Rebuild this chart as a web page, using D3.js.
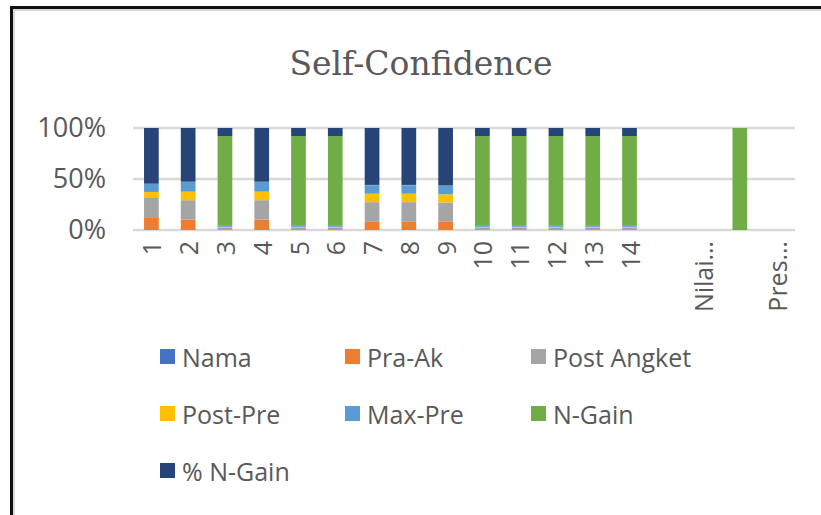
<!DOCTYPE html>
<html>
<head>
<meta charset="utf-8">
<script src="https://cdn.jsdelivr.net/npm/d3@7"></script>
<style>
  html, body { margin: 0; padding: 0; background: #fff; overflow: hidden; }
  svg { display: block; }
  text { font-family: "Open Sans", sans-serif; fill: #595959; }
</style>
</head>
<body>
<div id="my_dataviz"></div>
<script>
// categories (x axis) - some labels are blank in the original
var categories = ["1", "2", "3", "4", "5", "6", "7", "8", "9", "10", "11", "12", "13", "14", "", "Nilai…", "", "Pres…"];

// series values
var nama      = [0, 0, 0, 0, 0, 0, 0, 0, 0, 0, 0, 0, 0, 0, 0, 0, 0, 0];
var praAk     = [11.8, 10.3, 0.8, 10.3, 0.8, 0.8, 8, 8, 8.5, 0.8, 0.8, 0.8, 0.8, 0.8, 0, 0, 0, 0];
var postAngket = [19.6, 19, 1.3, 19, 1.3, 1.3, 19.3, 19.3, 18.5, 1.3, 1.3, 1.3, 1.3, 1.3, 0, 0, 0, 0];
var postPre   = [5.9, 8.4, 1, 8.4, 1, 1, 8.3, 8.3, 8, 1, 1, 1, 1, 1, 0, 0, 0, 0];
var maxPre    = [7.8, 9.5, 1, 9.5, 1, 1, 8.3, 8.3, 8.3, 1, 1, 1, 1, 1, 0, 0, 0, 0];
var nGain     = [0.3, 0.3, 88, 0.3, 88, 88, 0.3, 0.3, 0.3, 88, 88, 88, 88, 88, 0, 0, 100, 0];
var pctNGain  = [54.6, 52.8, 7.9, 52.8, 7.9, 7.9, 55.8, 55.8, 56.4, 7.9, 7.9, 7.9, 7.9, 7.9, 0, 0, 0, 0];

var seriesNames = ["Nama", "Pra-Ak", "Post Angket", "Post-Pre", "Max-Pre", "N-Gain", "% N-Gain"];
var seriesColors = ["#4472C4", "#ED7D31", "#A5A5A5", "#FFC000", "#5B9BD5", "#70AD47", "#264478"];
var yTicks = [0, 0.5, 1];

// build rows for d3.stack
var rows = categories.map(function (c, i) {
    return {
        idx: i,
        "Nama": nama[i], "Pra-Ak": praAk[i], "Post Angket": postAngket[i],
        "Post-Pre": postPre[i], "Max-Pre": maxPre[i], "N-Gain": nGain[i], "% N-Gain": pctNGain[i]
    };
});

var W = 821, H = 515;
var margin = { top: 128, left: 133, right: 26, bottom: 285 };
var width = W - margin.left - margin.right,
    height = H - margin.top - margin.bottom;

var svg = d3.select("#my_dataviz")
    .append("svg")
    .attr("width", W)
    .attr("height", H);

// outer frame (black) and chart area border (light gray): only top and left edges show
svg.append("path")
    .attr("d", "M11.5," + (H + 10) + "V7.5H" + (W + 10))
    .attr("fill", "none").attr("stroke", "#111").attr("stroke-width", 3);
svg.append("path")
    .attr("d", "M14," + (H + 10) + "V10H" + (W + 10))
    .attr("fill", "none").attr("stroke", "#D9D9D9").attr("stroke-width", 2);

// title
svg.append("text")
    .attr("x", 421).attr("y", 75)
    .attr("text-anchor", "middle")
    .style("font-family", "'DejaVu Serif', serif")
    .style("font-size", "33px")
    .text("Self-Confidence");

var g = svg.append("g")
    .attr("transform", "translate(" + margin.left + "," + margin.top + ")");

// scales
var x = d3.scaleBand()
    .domain(rows.map(function (d) { return d.idx; }))
    .range([0, width])
    .paddingInner(0.6)
    .paddingOuter(0.3);

var y = d3.scaleLinear()
    .domain([0, 1])
    .range([height, 0]);

// gridlines
g.selectAll(".grid")
    .data(yTicks)
    .enter()
    .append("line")
    .attr("x1", 0).attr("x2", width)
    .attr("y1", function (d) { return y(d); })
    .attr("y2", function (d) { return y(d); })
    .attr("stroke", "#D9D9D9")
    .attr("stroke-width", 2.5);

// y axis labels
var yAxis = g.append("g")
    .call(d3.axisLeft(y).tickValues(yTicks).tickFormat(d3.format(".0%")).tickSize(0).tickPadding(27));
yAxis.select(".domain").remove();
yAxis.selectAll("text")
    .style("font-size", "27px")
    .style("font-family", "'Open Sans', sans-serif")
    .attr("fill", "#595959");

// x axis labels
var xAxis = g.append("g")
    .attr("transform", "translate(0," + height + ")")
    .call(d3.axisBottom(x).tickFormat(function (i) { return categories[i]; }).tickSize(0));
xAxis.select(".domain").remove();
xAxis.selectAll("text")
    .style("font-size", "25px")
    .style("font-family", "'Open Sans', sans-serif")
    .attr("fill", "#595959")
    .attr("text-anchor", "end")
    .attr("dominant-baseline", "central")
    .attr("transform", "rotate(-90)")
    .attr("x", -11)
    .attr("y", 0)
    .attr("dy", null);

// stack the data (100% stacked)
var stackedData = d3.stack()
    .keys(seriesNames)
    .offset(d3.stackOffsetExpand)(rows);

var color = d3.scaleOrdinal()
    .domain(seriesNames)
    .range(seriesColors);

g.selectAll("mylayers")
    .data(stackedData)
    .enter()
    .append("g")
    .attr("fill", function (d) { return color(d.key); })
    .selectAll("rect")
    .data(function (d) { return d; })
    .enter()
    .append("rect")
    .attr("x", function (d) { return x(d.data.idx); })
    .attr("y", function (d) { return y(d[1]); })
    .attr("height", function (d) { return Math.max(0, y(d[0]) - y(d[1])); })
    .attr("width", x.bandwidth());

// legend
var legendCols = [160, 345, 531];
var legendRows = [357, 414, 471];
var legend = svg.selectAll(".legend")
    .data(seriesNames)
    .enter()
    .append("g")
    .attr("transform", function (d, i) {
        return "translate(" + legendCols[i % 3] + "," + legendRows[Math.floor(i / 3)] + ")";
    });
legend.append("rect")
    .attr("x", 0).attr("y", -8)
    .attr("width", 15).attr("height", 15)
    .attr("fill", function (d) { return color(d); });
legend.append("text")
    .attr("x", 22).attr("y", 0)
    .attr("dominant-baseline", "central")
    .style("font-size", "25px")
    .text(function (d) { return d; });
</script>
</body>
</html>
